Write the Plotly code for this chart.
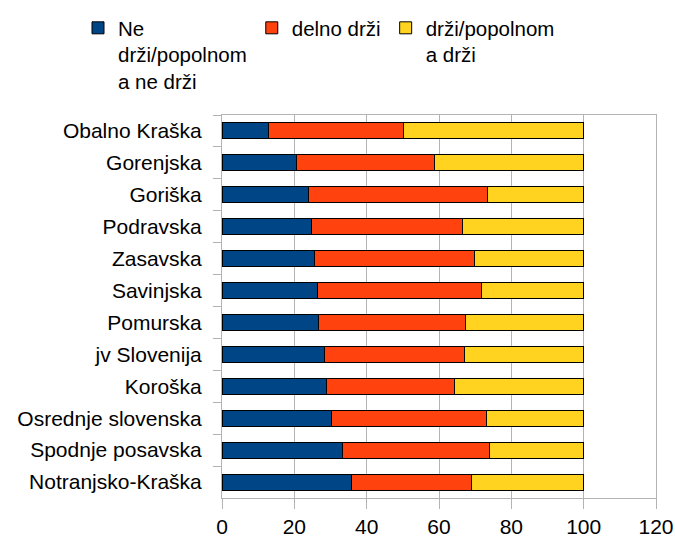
import plotly.graph_objects as go

categories = ["Obalno Kraška", "Gorenjska", "Goriška", "Podravska", "Zasavska",
              "Savinjska", "Pomurska", "jv Slovenija", "Koroška",
              "Osrednje slovenska", "Spodnje posavska", "Notranjsko-Kraška"]
ne_drzi = [12.8, 20.6, 23.9, 24.7, 25.6, 26.4, 26.7, 28.3, 28.9, 30.2, 33.3, 35.9]
delno_drzi = [37.5, 38.2, 49.6, 41.8, 44.2, 45.3, 40.5, 38.7, 35.5, 42.9, 40.7, 33.2]
drzi = [49.7, 41.2, 26.5, 33.5, 30.2, 28.3, 32.8, 33.0, 35.6, 26.9, 26.0, 30.9]

series_names = ["Ne<br>drži/popolnom<br>a ne drži", "delno drži", "drži/popolnom<br>a drži"]
colors = ["#004586", "#ff420e", "#ffd320"]

fig = go.Figure()
for name, vals, col in zip(series_names, [ne_drzi, delno_drzi, drzi], colors):
    fig.add_trace(go.Bar(
        y=categories, x=vals, name=name, orientation="h",
        marker=dict(color=col, line=dict(color="#000000", width=1)),
    ))

L, R, T, B = 222, 19, 115, 43
W, H = 675, 541
pw, ph = W - L - R, H - T - B

fig.update_layout(
    barmode="stack",
    bargap=0.5,
    width=W, height=H,
    margin=dict(l=L, r=R, t=T, b=B, autoexpand=False),
    paper_bgcolor="white", plot_bgcolor="white",
    font=dict(family="Liberation Sans, Arial, sans-serif", size=21, color="#000000"),
    legend=dict(orientation="h", xref="paper", yref="paper",
                x=(78 - L) / pw, y=1 + (T - 8) / ph, xanchor="left", yanchor="top",
                valign="top", traceorder="normal",
                font=dict(size=20.5)),
    xaxis=dict(range=[0, 120], dtick=20, showgrid=True, gridcolor="#b3b3b3",
               showline=True, linecolor="#b3b3b3", mirror=True,
               ticks="outside", ticklen=10, tickcolor="#b3b3b3", zeroline=False),
    yaxis=dict(autorange="reversed", showgrid=False, showline=True,
               linecolor="#b3b3b3", mirror=True, ticks="outside", ticklen=8,
               tickcolor="#b3b3b3", tickson="boundaries", ticklabelstandoff=15),
)

fig.write_html("out.html", config={"displayModeBar": False},
               post_script="document.body.style.margin='0';document.body.style.overflow='hidden';")
